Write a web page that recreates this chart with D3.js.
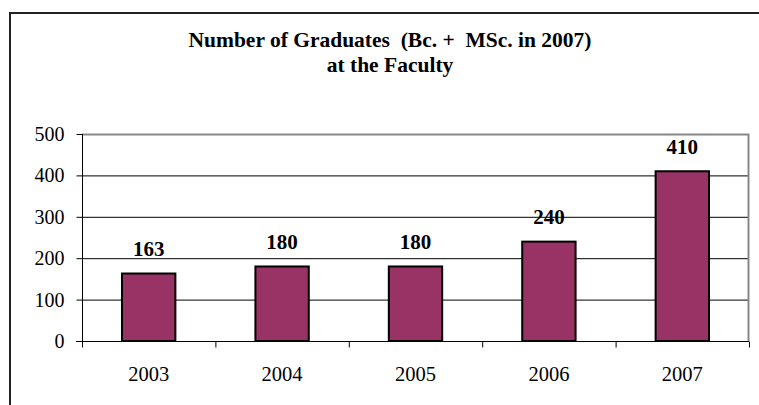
<!DOCTYPE html>
<html>
<head>
<meta charset="utf-8">
<script src="https://cdn.jsdelivr.net/npm/d3@7"></script>
</head>
<body style="margin:0; background:#fff">
<svg width="759" height="405"></svg>
<script>
// chart data
var years = ["2003", "2004", "2005", "2006", "2007"];
var graduates = [163, 180, 180, 240, 410];
var yTicks = [0, 100, 200, 300, 400, 500];
var titleLines = ["Number of Graduates  (Bc. +  MSc. in 2007)", "at the Faculty"];

var serif = "Liberation Serif";

var svg = d3.select("svg").attr("font-family", serif),
    margin = {top: 134, right: 10, bottom: 64, left: 82},
    width = +svg.attr("width") - margin.left - margin.right,
    height = +svg.attr("height") - margin.top - margin.bottom;

// outer chart border (runs off right and bottom)
svg.append("path")
    .attr("d", "M10,420V13H770")
    .attr("fill", "none")
    .attr("stroke", "#222")
    .attr("stroke-width", 2);

var title = svg.append("text")
    .attr("x", 390)
    .attr("y", 47)
    .attr("text-anchor", "middle")
    .attr("font-family", serif)
    .attr("font-weight", "bold")
    .attr("font-size", 21.5)
    .style("white-space", "pre");

title.selectAll("tspan")
    .data(titleLines)
    .enter().append("tspan")
    .attr("x", 390)
    .attr("dy", function(d, i) { return i ? 25 : 0; })
    .text(function(d) { return d; });

var g = svg.append("g")
    .attr("transform", "translate(" + margin.left + "," + margin.top + ")");

var xb = d3.scaleBand().domain(years).range([0, width]);

var y = d3.scaleLinear()
    .domain([0, 500])
    .range([height, 0]);

// gridlines
g.append("g")
    .selectAll("line")
    .data(yTicks.filter(function(d) { return d > 0 && d < 500; }))
    .enter().append("line")
    .attr("x1", 0)
    .attr("x2", width)
    .attr("y1", function(d) { return y(d) + 0.5; })
    .attr("y2", function(d) { return y(d) + 0.5; })
    .attr("stroke", "#000")
    .attr("stroke-width", 1);

// plot area border top/right (grey)
g.append("path")
    .attr("d", "M0," + (y(500) + 0.5) + "H" + (width - 0.5) + "V" + height)
    .attr("fill", "none")
    .attr("stroke", "#888")
    .attr("stroke-width", 2);

// bars
g.selectAll("rect.bar")
    .data(graduates)
    .enter().append("rect")
    .attr("class", "bar")
    .attr("x", function(d, i) { return xb(years[i]) + xb.bandwidth() * 0.3; })
    .attr("width", xb.bandwidth() * 0.4)
    .attr("y", function(d) { return y(d); })
    .attr("height", function(d) { return height - y(d); })
    .attr("fill", "#993366")
    .attr("stroke", "#000")
    .attr("stroke-width", 2);

// value labels
g.selectAll("text.val")
    .data(graduates)
    .enter().append("text")
    .attr("class", "val")
    .attr("x", function(d, i) { return xb(years[i]) + xb.bandwidth() / 2; })
    .attr("y", function(d) { return y(d) - 17.5; })
    .attr("text-anchor", "middle")
    .attr("font-family", serif)
    .attr("font-weight", "bold")
    .attr("font-size", 21)
    .text(function(d) { return d; });

// y axis
var yAxis = d3.axisLeft(y).tickValues(yTicks).tickSize(6).tickPadding(12);
var yg = g.append("g").attr("transform", "translate(0.5,0)").call(yAxis);
yg.attr("font-family", serif).attr("font-size", 20);
yg.select(".domain").attr("d", "M0," + height + "V" + y(500)).attr("stroke", "#000");
yg.selectAll("text").attr("fill", "#000");

// x axis with ticks between categories
var xg = g.append("g").attr("transform", "translate(0," + (height + 0.5) + ")");
xg.append("line")
    .attr("x1", -6).attr("x2", width)
    .attr("stroke", "#000");
xg.selectAll("line.tick")
    .data(years.concat(["end"]))
    .enter().append("line")
    .attr("class", "tick")
    .attr("x1", function(d, i) { return i * xb.step() + 0.5; })
    .attr("x2", function(d, i) { return i * xb.step() + 0.5; })
    .attr("y1", 0).attr("y2", 6)
    .attr("stroke", "#000");
xg.selectAll("text")
    .data(years)
    .enter().append("text")
    .attr("x", function(d) { return xb(d) + xb.bandwidth() / 2; })
    .attr("y", 39)
    .attr("text-anchor", "middle")
    .attr("font-family", serif)
    .attr("font-size", 20.5)
    .text(function(d) { return d; });
</script>
</body>
</html>
